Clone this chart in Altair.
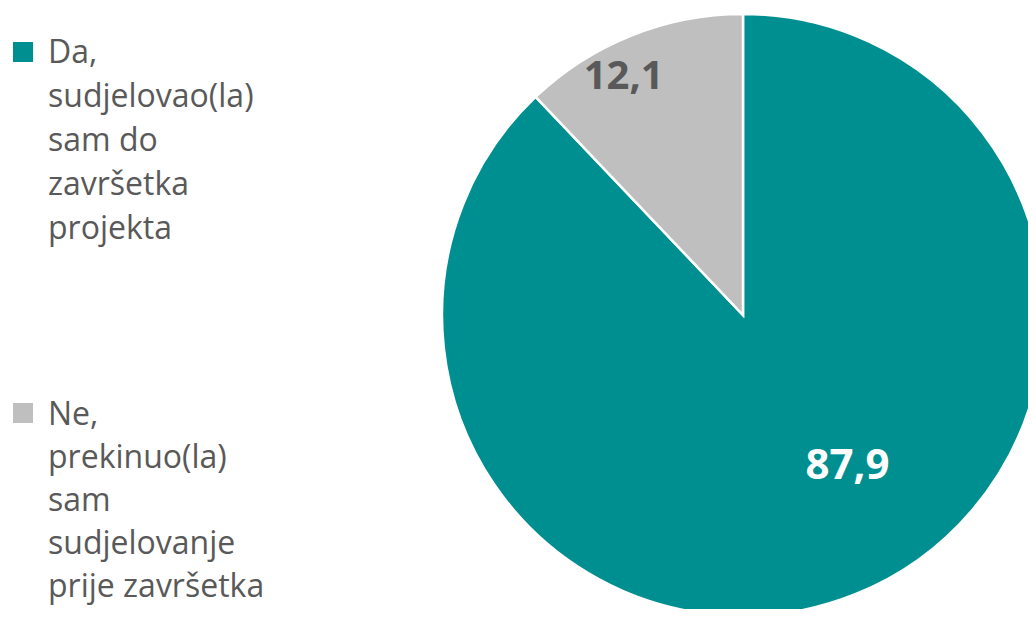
import altair as alt
import pandas as pd

categories = [
    "Da, sudjelovao(la) sam do završetka projekta",
    "Ne, prekinuo(la) sam sudjelovanje prije završetka",
]
legend_lines = [
    ["Da,", "sudjelovao(la)", "sam do", "završetka", "projekta"],
    ["Ne,", "prekinuo(la)", "sam", "sudjelovanje", "prije završetka"],
]
values = [87.9, 12.1]
labels = ["87,9", "12,1"]
colors = ["#008F91", "#BFBFBF"]

df = pd.DataFrame({
    "category": categories,
    "value": values,
    "label": labels,
    "idx": [0, 1],
    "legend": ["\n".join(l) for l in legend_lines],
})

CX, CY = 735, 307
FONT = "Open Sans"

base = alt.Chart(df)
color = alt.Color("category:N", scale=alt.Scale(domain=categories, range=colors), legend=None)
theta_scale = alt.Scale(domain=[0, 100])

pie = base.mark_arc(outerRadius=301, stroke="white", strokeWidth=2.5).encode(
    theta=alt.Theta("value:Q", stack=True, scale=theta_scale),
    order=alt.Order("idx:Q"),
    color=color,
    x=alt.value(CX),
    y=alt.value(CY),
)

lab_base = base.transform_window(
    cum="sum(value)", sort=[alt.SortField("idx")]
).transform_calculate(mid="datum.cum - datum.value / 2")

lab_teal = lab_base.transform_filter("datum.idx == 0").mark_text(
    radius=179, dx=38, dy=-15, fontSize=42, fontWeight="bold", color="white",
    font=FONT, align="center", baseline="middle",
).encode(
    theta=alt.Theta("mid:Q", stack=None, scale=theta_scale),
    text="label:N",
    x=alt.value(CX),
    y=alt.value(CY),
)

lab_gray = lab_base.transform_filter("datum.idx == 1").mark_text(
    radius=265, dx=-21, dy=8, fontSize=40, fontWeight="bold", color="#595959",
    font=FONT, align="center", baseline="middle",
).encode(
    theta=alt.Theta("mid:Q", stack=None, scale=theta_scale),
    text="label:N",
    x=alt.value(CX),
    y=alt.value(CY),
)

legend_layers = []
for i, (sq_y, txt_y, lh) in enumerate([(44, 55, 44), (405, 417, 43)]):
    sub = base.transform_filter(f"datum.idx == {i}")
    legend_layers.append(
        sub.mark_square(size=400, opacity=1, filled=True).encode(
            x=alt.value(15), y=alt.value(sq_y), color=color
        )
    )
    legend_layers.append(
        sub.mark_text(
            align="left", baseline="alphabetic", lineBreak="\n", lineHeight=lh,
            fontSize=32, font=FONT, color="#595959",
        ).encode(x=alt.value(40), y=alt.value(txt_y), text="legend:N")
    )

chart = alt.layer(pie, lab_teal, lab_gray, *legend_layers).properties(
    width=1020, height=601,
    autosize=alt.AutoSizeParams(type="none"),
    padding=0,
).configure_view(stroke=None)

chart.save("out.html", embed_options={"renderer": "svg", "actions": False})
